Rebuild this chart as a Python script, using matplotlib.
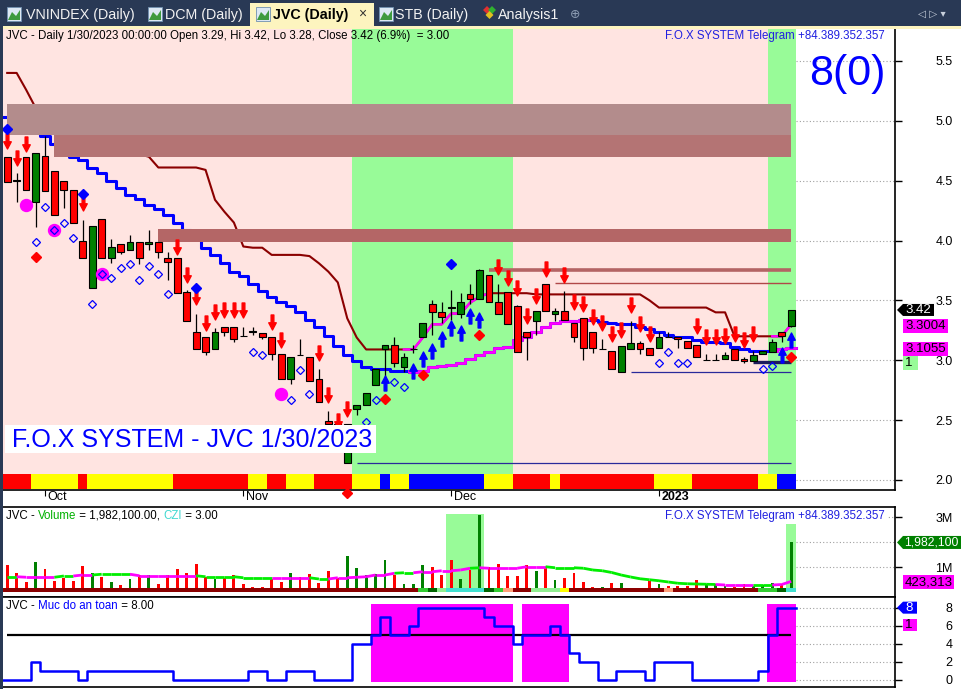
import numpy as np
import matplotlib
matplotlib.use("Agg")
import matplotlib.pyplot as plt
from matplotlib.patches import Rectangle, Polygon
from matplotlib.path import Path
from matplotlib.collections import LineCollection

plt.rcParams['font.family'] = ['Liberation Sans', 'DejaVu Sans']

W, H, DPI = 961, 689, 100

# ---------------- data ----------------
month_ticks = [4, 25, 47, 69]
month_labels = ['Oct', 'Nov', 'Dec', '2023']
price_ticks = [2.0, 2.5, 3.0, 3.5, 4.0, 4.5, 5.0, 5.5]
price_tick_labels = ['2.0', '2.5', '3.0', '3.5', '4.0', '4.5', '5.0', '5.5']
vol_ticks = [1.0, 3.0]
vol_tick_labels = ['1M', '3M']
safe_ticks = [0, 2, 4, 6, 8]
safe_tick_labels = ['0', '2', '4', '6', '8']

opens = [4.70, 4.50, 4.70, 4.32, 4.71, 4.58, 4.50, 4.42, 4.00, 3.60,
         4.18, 3.85, 3.97, 3.92, 3.99, 3.97, 3.99, 3.85, 3.85, 3.57,
         3.24, 3.19, 3.09, 3.28, 3.28, 3.20, 3.24, 3.23, 3.19, 3.05,
         2.84, 3.04, 3.03, 2.84, 2.49, 2.47, 2.14, 2.59, 2.63, 2.79,
         3.09, 3.13, 2.94, 3.09, 3.19, 3.47, 3.40, 3.44, 3.39, 3.55,
         3.51, 3.71, 3.49, 3.57, 3.45, 3.24, 3.33, 3.64, 3.39, 3.41,
         3.31, 3.35, 3.24, 3.09, 3.08, 2.90, 3.09, 3.14, 3.10, 3.10,
         3.19, 3.19, 3.16, 3.13, 3.00, 3.00, 3.01, 3.09, 3.01, 2.99,
         3.05, 3.07, 3.24, 3.29]
highs = [4.70, 4.56, 4.70, 4.73, 4.87, 4.58, 4.50, 4.42, 4.17, 4.12,
         4.18, 4.01, 3.97, 4.05, 3.99, 4.09, 3.99, 3.90, 3.85, 3.59,
         3.39, 3.19, 3.27, 3.28, 3.28, 3.28, 3.28, 3.23, 3.19, 3.05,
         3.03, 3.18, 3.03, 2.93, 2.58, 2.48, 2.47, 2.63, 2.73, 2.93,
         3.13, 3.19, 3.06, 3.13, 3.31, 3.50, 3.49, 3.59, 3.56, 3.64,
         3.76, 3.71, 3.64, 3.57, 3.46, 3.24, 3.41, 3.64, 3.44, 3.58,
         3.31, 3.35, 3.24, 3.18, 3.08, 3.12, 3.33, 3.16, 3.10, 3.24,
         3.24, 3.19, 3.16, 3.13, 3.05, 3.05, 3.07, 3.09, 3.03, 3.08,
         3.08, 3.18, 3.24, 3.42]
lows = [4.49, 4.32, 4.42, 4.11, 4.41, 4.21, 4.27, 4.15, 3.85, 3.60,
        3.85, 3.81, 3.89, 3.92, 3.80, 3.92, 3.85, 3.67, 3.56, 3.33,
        3.09, 3.04, 3.09, 3.20, 3.15, 3.20, 3.21, 3.18, 3.00, 2.84,
        2.80, 3.04, 2.83, 2.65, 2.47, 2.30, 2.14, 2.54, 2.63, 2.79,
        2.86, 2.94, 2.90, 3.06, 3.19, 3.21, 3.31, 3.34, 3.35, 3.47,
        3.51, 3.49, 3.39, 3.30, 3.07, 3.00, 3.21, 3.41, 3.33, 3.34,
        3.15, 3.00, 3.06, 3.09, 2.93, 2.90, 3.09, 3.05, 3.04, 3.10,
        3.19, 3.10, 3.10, 3.03, 3.00, 3.00, 3.01, 3.00, 2.98, 2.99,
        3.05, 3.07, 3.15, 3.28]
closes = [4.49, 4.50, 4.42, 4.73, 4.41, 4.21, 4.42, 4.15, 3.85, 4.12,
          3.85, 3.95, 3.90, 3.99, 3.85, 3.99, 3.90, 3.82, 3.56, 3.33,
          3.09, 3.07, 3.24, 3.24, 3.18, 3.20, 3.24, 3.19, 3.05, 2.84,
          3.03, 3.04, 2.83, 2.65, 2.47, 2.32, 2.47, 2.63, 2.73, 2.93,
          3.13, 2.98, 3.03, 3.09, 3.31, 3.40, 3.36, 3.44, 3.49, 3.51,
          3.75, 3.49, 3.39, 3.30, 3.07, 3.19, 3.41, 3.41, 3.41, 3.34,
          3.19, 3.10, 3.10, 3.09, 2.93, 3.12, 3.14, 3.09, 3.04, 3.19,
          3.19, 3.18, 3.10, 3.03, 3.00, 3.00, 3.04, 3.00, 2.99, 3.04,
          3.08, 3.15, 3.20, 3.42]

# trailing resistance (upper) and support (lower) lines
upper_line = [5.40, 5.40, 5.26, 5.11, 5.02, 4.97, 4.92, 4.88, 4.86, 4.83,
              4.81, 4.78, 4.76, 4.74, 4.72, 4.70, 4.61, 4.61, 4.61, 4.61,
              4.61, 4.59, 4.34, 4.24, 4.15, 3.95, 3.94, 3.94, 3.88, 3.88,
              3.88, 3.88, 3.87, 3.81, 3.74, 3.65, 3.35, 3.19, 3.09, 3.09,
              3.09, 3.09, 3.09, 3.09, 3.19, 3.30, 3.30, 3.39, 3.39, 3.48,
              3.53, 3.56, 3.56, 3.56, 3.56, 3.56, 3.55, 3.55, 3.55, 3.55,
              3.55, 3.55, 3.55, 3.55, 3.55, 3.55, 3.55, 3.55, 3.50, 3.44,
              3.44, 3.44, 3.44, 3.44, 3.44, 3.40, 3.40, 3.20, 3.20, 3.20,
              3.20, 3.20, 3.20, 3.3004]
lower_line = [5.03, 5.03, 5.01, 4.97, 4.87, 4.81, 4.76, 4.70, 4.67, 4.61,
              4.56, 4.50, 4.44, 4.38, 4.35, 4.30, 4.26, 4.21, 4.15, 4.09,
              4.03, 3.94, 3.88, 3.81, 3.74, 3.70, 3.64, 3.58, 3.53, 3.49,
              3.45, 3.40, 3.34, 3.28, 3.20, 3.12, 3.04, 2.99, 2.94, 2.93,
              2.93, 2.91, 2.91, 2.90, 2.91, 2.94, 2.95, 2.96, 2.98, 3.01,
              3.04, 3.07, 3.10, 3.11, 3.17, 3.19, 3.24, 3.28, 3.31, 3.33,
              3.33, 3.34, 3.34, 3.32, 3.31, 3.30, 3.30, 3.28, 3.26, 3.24,
              3.21, 3.19, 3.19, 3.17, 3.15, 3.15, 3.14, 3.11, 3.09, 3.08,
              3.08, 3.08, 3.09, 3.1055]
upper_bull = [(43, 51), (82, 83)]
lower_bull = [(43, 61), (82, 83)]

# background trend zones (first bar, last bar, colour)
bg_zones = [(0, 36, '#FFE4E1'), (37, 53, '#98FB98'), (54, 80, '#FFE4E1'), (81, 83, '#98FB98')]
# state strip at the bottom of the price pane
strip_zones = [(0, 2, 'r'), (3, 7, 'y'), (8, 8, 'r'), (9, 17, 'y'), (18, 25, 'r'), (26, 27, 'y'),
               (28, 29, 'r'), (30, 32, 'y'), (33, 36, 'r'), (37, 39, 'y'), (40, 40, 'b'),
               (41, 42, 'y'), (43, 50, 'b'), (51, 53, 'y'), (54, 57, 'r'), (58, 58, 'y'),
               (59, 68, 'r'), (69, 72, 'y'), (73, 79, 'r'), (80, 81, 'y'), (82, 83, 'b')]
# supply zones (first bar, last bar, low, high, colour)
supply_zones = [(0, 83, 4.879, 5.141, '#B38C8C'), (5, 83, 4.700, 4.879, '#B47474'),
                (16, 83, 3.990, 4.096, '#B46666')]
# horizontal levels (price, first bar, last bar, colour, width)
levels = [(3.754, 51, 83, '#B46464', 2.6), (3.645, 58, 83, '#B04848', 1.0),
          (2.142, 37, 83, '#2A2A9A', 0.9), (2.902, 66, 83, '#2A2A9A', 0.9),
          (2.985, 79, 83, '#1C1C5C', 2.4)]

sell_bars = [0, 1, 2, 8, 18, 19, 20, 21, 22, 23, 24, 25, 28, 29, 33, 34, 35, 36,
             52, 53, 54, 55, 56, 57, 59, 60, 61, 62, 63, 64, 65, 66, 67, 68,
             73, 74, 75, 76, 77, 78, 79]
sell_prices = [4.83, 4.69, 4.81, 4.31, 3.95, 3.71, 3.53, 3.31, 3.40, 3.42, 3.42, 3.42,
               3.32, 3.17, 3.06, 2.71, 2.49, 2.59,
               3.78, 3.69, 3.60, 3.37, 3.54, 3.76, 3.71, 3.49, 3.47, 3.36, 3.31, 3.22,
               3.25, 3.46, 3.30, 3.22,
               3.29, 3.19, 3.19, 3.20, 3.22, 3.17, 3.22]
buy_bars = [40, 43, 44, 45, 46, 47, 48, 49, 50, 82, 83]
buy_prices = [2.81, 2.91, 3.01, 3.08, 3.18, 3.27, 3.23, 3.37, 3.34, 3.04, 3.17]
hollow_bars = [3, 4, 5, 6, 7, 9, 10, 11, 12, 13, 14, 15, 16, 17, 26, 27, 30, 31, 32,
               38, 39, 41, 42, 69, 70, 71, 72, 80, 81]
hollow_prices = [3.99, 4.28, 4.09, 4.15, 4.02, 3.47, 3.72, 3.69, 3.77, 3.80, 3.67, 3.79,
                 3.72, 3.55, 3.07, 3.04, 2.67, 2.92, 2.72,
                 2.48, 2.67, 2.82, 2.78, 2.98, 3.07, 2.98, 2.98, 2.93, 2.95]
bluedot_bars = [0, 8, 20, 47]
bluedot_prices = [4.93, 4.39, 3.60, 3.80]
reddot_bars = [3, 40, 44, 50, 83]
reddot_prices = [3.86, 2.68, 2.88, 3.21, 3.03]
axis_signal_bar = 36
circle_bars = [2, 5, 10, 29]
circle_prices = [4.30, 4.09, 3.72, 2.72]

# volume (millions)
volumes = [1.08, 0.77, 0.41, 1.21, 0.92, 0.45, 0.57, 0.45, 1.05, 0.75,
           0.59, 0.40, 0.28, 0.52, 0.68, 0.68, 0.32, 0.68, 0.92, 0.77,
           1.12, 0.59, 0.52, 0.57, 0.68, 0.32, 0.19, 0.19, 0.52, 0.41,
           0.77, 0.59, 0.72, 0.37, 0.84, 0.55, 1.44, 0.95, 0.68, 0.72,
           1.28, 0.68, 0.32, 0.32, 1.08, 1.01, 0.68, 1.28, 0.52, 0.88,
           3.08, 1.01, 1.12, 0.64, 0.64, 1.08, 0.84, 0.97, 0.48, 0.55,
           0.75, 0.40, 0.19, 0.19, 0.35, 0.35, 0.15, 0.11, 0.45, 0.32,
           0.24, 0.24, 0.24, 0.48, 0.31, 0.32, 0.24, 0.21, 0.32, 0.24,
           0.28, 0.35, 0.32, 1.9821]
vol_up = [0, 0, 0, 1, 0, 0, 0, 0, 0, 1, 0, 1, 0, 1, 0, 1, 0, 0, 0, 0,
          0, 0, 1, 0, 0, 0, 0, 0, 0, 0, 1, 0, 0, 0, 0, 0, 1, 1, 1, 1,
          1, 0, 1, 1, 1, 0, 0, 0, 1, 0, 1, 0, 0, 0, 0, 0, 1, 0, 1, 0,
          0, 0, 0, 1, 0, 1, 1, 0, 0, 1, 0, 0, 0, 0, 1, 1, 1, 0, 0, 1,
          1, 1, 0, 1]
vol_ma = [0.61, 0.61, 0.59, 0.59, 0.59, 0.59, 0.64, 0.64, 0.68, 0.68,
          0.71, 0.71, 0.71, 0.71, 0.65, 0.65, 0.65, 0.65, 0.65, 0.65,
          0.65, 0.61, 0.61, 0.61, 0.61, 0.57, 0.57, 0.57, 0.57, 0.57,
          0.57, 0.57, 0.57, 0.52, 0.52, 0.57, 0.57, 0.59, 0.61, 0.68,
          0.68, 0.75, 0.77, 0.77, 0.81, 0.81, 0.85, 0.85, 0.88, 0.95,
          0.97, 0.95, 0.95, 0.95, 0.95, 1.01, 1.01, 1.01, 0.97, 0.97,
          0.97, 0.95, 0.88, 0.85, 0.78, 0.68, 0.60, 0.53, 0.49, 0.45,
          0.40, 0.35, 0.33, 0.32, 0.31, 0.30, 0.28, 0.28, 0.28, 0.28,
          0.28, 0.28, 0.30, 0.423313]
vol_ma_bull = [(2, 5), (8, 9), (14, 20), (29, 32), (35, 41), (44, 49), (51, 57), (76, 79), (82, 83)]
czi_zones = [(0, 43, '#8B0000'), (44, 44, '#32CD32'), (45, 45, '#006400'), (46, 46, '#90EE90'),
             (47, 50, '#40E0D0'), (51, 51, '#006400'), (52, 52, '#32CD32'), (53, 53, '#FFA07A'),
             (54, 55, '#8B0000'), (56, 58, '#90EE90'), (59, 59, '#FFFF00'), (60, 69, '#8B0000'),
             (70, 70, '#FFA07A'), (71, 79, '#8B0000'), (80, 81, '#32CD32'), (82, 82, '#006400'),
             (83, 83, '#40E0D0')]
vol_spike_zones = [(47, 50, 3.12), (83, 83, 2.72)]

# safety level ("Muc do an toan")
safety = [0, 0, 0, 2, 1, 1, 1, 1, 0, 1, 1, 1, 1, 1, 1, 1, 1, 1, 0, 0,
          0, 0, 0, 0, 0, 0, 1, 1, 0, 0, 1, 1, 1, 0, 0, 0, 0, 4, 4, 5,
          7, 5, 5, 6, 8, 8, 8, 8, 8, 8, 8, 7, 6, 6, 4, 5, 5, 5, 6, 5,
          3, 2, 2, 0, 0, 1, 1, 1, 0, 2, 2, 2, 2, 0, 0, 0, 0, 0, 0, 0,
          1, 5, 8, 8]
safety_threshold = 5

# ---------------- figure ----------------
fig = plt.figure(figsize=(W / DPI, H / DPI), dpi=DPI)
fig.patch.set_facecolor('white')


def fx(x):
    return x / W


def fy(y):
    return 1 - y / H


def add_ax(top, bottom, left=3, right=895):
    return fig.add_axes([fx(left), fy(bottom), (right - left) / W, (bottom - top) / H])


ax = add_ax(29, 490)
axv = add_ax(507, 597)
axs = add_ax(597, 687)
XL = (-0.445, 93.99)
for a in (ax, axv, axs):
    a.set_xlim(*XL)
    a.grid(False)
    a.spines['left'].set_visible(False)
    for s in ('right', 'top', 'bottom'):
        a.spines[s].set_linewidth(1.2)
    a.yaxis.tick_right()
    a.tick_params(axis='y', direction='out', length=5, width=1, labelsize=9, pad=36.5)
ax.spines['top'].set_visible(False)

idx = np.arange(len(closes))
o = np.array(opens); hi = np.array(highs); lo = np.array(lows); c = np.array(closes)

# ---- price pane ----
ax.set_ylim(1.916, 5.767)
ax.set_yticks(price_ticks)
ax.set_yticklabels(price_tick_labels)
ax.set_xticks(month_ticks)
ax.tick_params(axis='x', direction='out', length=4, labelbottom=False)
for i, lab in enumerate(month_labels):
    ax.text(month_ticks[i] + 0.3, -0.016, lab, transform=ax.get_xaxis_transform(), ha='left',
            va='center', fontsize=9, fontweight='bold' if lab == '2023' else 'normal')

STRIP_TOP = (490 - 474) / 461
for s, e, col in bg_zones:
    ax.axvspan(s - 0.5, e + 0.5, ymin=STRIP_TOP, ymax=1, color=col, lw=0, zorder=0.5)
scol = {'r': '#FF0000', 'y': '#FFFF00', 'b': '#0000FF'}
for s, e, k in strip_zones:
    ax.axvspan(s - 0.5, e + 0.5, ymin=0.002, ymax=STRIP_TOP, color=scol[k], lw=0, zorder=1)

ax.hlines(price_ticks, 83.5, XL[1], colors='#A0A0A0', linestyles=(0, (1, 2)), lw=0.8, zorder=0.6)


def step_xy(vals, a, b):
    xs, ys = [], []
    if a > 0:
        xs.append(a - 0.5); ys.append(vals[a - 1])
    for i in range(a, b + 1):
        xs += [i - 0.5, i + 0.5]; ys += [vals[i], vals[i]]
    return xs, ys


ax.plot(idx, upper_line, color='#8B0000', lw=1.5, zorder=2)
for s, e in upper_bull:
    ax.plot(idx[s - 1:e + 1], upper_line[s - 1:e + 1], color='#FF00FF', lw=1.8, zorder=2.1)
xs, ys = step_xy(lower_line, 0, len(lower_line) - 1)
ax.plot(xs, ys, color='#0000FF', lw=2.2, zorder=2)
for s, e in lower_bull:
    xs, ys = step_xy(lower_line, s, e)
    ax.plot(xs, ys, color='#FF00FF', lw=2.0, zorder=2.1)

for s, e, p0, p1, col in supply_zones:
    ax.add_patch(Rectangle((s, p0), e - s, p1 - p0, facecolor=col, edgecolor='none', zorder=3))
for p, s, e, col, lw in levels:
    ax.hlines(p, s, e, colors=col, lw=lw, zorder=3.2)

# candles
ax.vlines(idx, lo, hi, colors='black', lw=0.9, zorder=4)
body_lo = np.minimum(o, c)
body_h = np.maximum(np.abs(c - o), 0.004)
body_col = np.where(c > o, '#008000', np.where(c < o, '#FF0000', '#000000'))
ax.bar(idx, body_h, bottom=body_lo, width=0.72, color=body_col, edgecolor='black', lw=0.8, zorder=4.1)

# signal markers
av = [(-0.09, 0.5), (0.09, 0.5), (0.09, -0.02), (0.25, -0.02), (0, -0.5), (-0.25, -0.02), (-0.09, -0.02), (-0.09, 0.5)]
codes = [Path.MOVETO] + [Path.LINETO] * 6 + [Path.CLOSEPOLY]
down_arrow = Path(av, codes)
up_arrow = Path([(x, -y) for x, y in av], codes)
ax.plot(sell_bars, sell_prices, ls='none', marker=down_arrow, ms=10.8, color='#FF0000', mec='#FF0000', zorder=5)
ax.plot(buy_bars, buy_prices, ls='none', marker=up_arrow, ms=10.8, color='#0000FF', mec='#0000FF', zorder=5)
ax.plot(circle_bars, circle_prices, ls='none', marker='o', ms=8.6, color='#FF00FF', mec='#FF00FF', zorder=5)
ax.plot(hollow_bars, hollow_prices, ls='none', marker='D', ms=4.4, mfc='none', mec='#0000FF', mew=0.9, zorder=5.1)
ax.plot(bluedot_bars, bluedot_prices, ls='none', marker='D', ms=4.6, color='#0000FF', zorder=5.1)
ax.plot(reddot_bars, reddot_prices, ls='none', marker='D', ms=4.6, color='#FF0000', zorder=5.1)
ax.plot([axis_signal_bar], [1.89], ls='none', marker='D', ms=4.6, color='#FF0000', zorder=6, clip_on=False)

# ---- volume pane ----
axv.set_ylim(-0.2, 3.4)
axv.set_yticks(vol_ticks)
axv.set_yticklabels(vol_tick_labels)
axv.set_xticks([])
for s, e, top in vol_spike_zones:
    axv.add_patch(Rectangle((s - 0.5, 0), e - s + 1, top, facecolor='#98FB98', edgecolor='none', zorder=0.5))
vcol = ['#008000' if u else '#FF0000' for u in vol_up]
axv.bar(idx, volumes, width=0.3, color=vcol, lw=0, zorder=2)
for s, e, col in czi_zones:
    axv.add_patch(Rectangle((s - 0.5, 0), e - s + 1, 0.16, facecolor=col, edgecolor='none', zorder=3))
bull_mask = np.zeros(len(vol_ma), bool)
for s, e in vol_ma_bull:
    bull_mask[s:e + 1] = True
pts = np.column_stack([idx, vol_ma])
segs = [pts[i:i + 2] for i in range(len(pts) - 1)]
segc = ['#FF00FF' if bull_mask[i + 1] else '#00EE00' for i in range(len(pts) - 1)]
axv.add_collection(LineCollection(segs, colors=segc, linewidths=2.0, zorder=4))
axv.hlines([1.0, volumes[-1]], 83.5, XL[1], colors='#A0A0A0', linestyles=(0, (1, 2)), lw=0.8, zorder=0.6)
axv.hlines([3.0], 92.9, XL[1], colors='#A0A0A0', linestyles=(0, (1, 2)), lw=0.8, zorder=0.6)

# ---- safety pane ----
axs.set_ylim(-0.775, 9.18)
axs.set_yticks(safe_ticks)
axs.set_yticklabels(safe_tick_labels)
axs.set_xticks([])
sv = np.array(safety)
mask = sv >= safety_threshold
axs.bar(idx[mask], 8.62, bottom=-0.22, width=1.02, color='#FF00FF', lw=0, zorder=1)
axs.hlines(safety_threshold, 0, 83, colors='black', lw=1.6, zorder=2)
xs, ys = step_xy(safety, 0, len(safety) - 1)
axs.plot(xs, ys, color='#0000FF', lw=1.8, zorder=3)
axs.hlines(safe_ticks, 83.5, XL[1], colors='#A0A0A0', linestyles=(0, (1, 2)), lw=0.8, zorder=0.6)

for a in (ax, axv, axs):
    for lab in a.get_yticklabels():
        lab.set_horizontalalignment('right')

# ---------------- texts and tags ----------------
renderer = fig.canvas.get_renderer()


def parts_text(x, y, parts, fs):
    cx = x
    for s, col in parts:
        t = fig.text(fx(cx), fy(y), s, color=col, fontsize=fs, va='center', ha='left')
        cx += t.get_window_extent(renderer=renderer).width


def ypx(a, v):
    return H - a.transData.transform((0, v))[1]


def tag(y, text, fc, tc, x0, x1, arrow=False, h=13, fs=9.5, tx=2):
    if arrow:
        pts_ = [(x0 - 6, y), (x0, y - h / 2), (x1, y - h / 2), (x1, y + h / 2), (x0, y + h / 2)]
    else:
        pts_ = [(x0, y - h / 2), (x1, y - h / 2), (x1, y + h / 2), (x0, y + h / 2)]
    fig.add_artist(Polygon([(fx(px), fy(py)) for px, py in pts_], closed=True,
                           transform=fig.transFigure, fc=fc, ec='none', zorder=5))
    fig.text(fx(x0 + tx), fy(y + 0.5), text, color=tc, fontsize=fs, ha='left', va='center', zorder=6)


parts_text(6, 36, [("JVC - Daily 1/30/2023 00:00:00 Open 3.29, Hi 3.42, Lo 3.28, Close 3.42 (6.9%)  = 3.00", 'black')], 8.3)
fig.text(fx(885), fy(36), "F.O.X SYSTEM Telegram +84.389.352.357", color='#2020E0', fontsize=8.3, ha='right', va='center')
fig.text(fx(847), fy(74), "8(0)", color='#0000FF', fontsize=31, ha='center', va='center')
fig.add_artist(Rectangle((fx(5), fy(453)), 371 / W, 28 / H, transform=fig.transFigure, fc='white', ec='none', zorder=4))
fig.text(fx(12), fy(440), "F.O.X SYSTEM - JVC 1/30/2023", color='#0000FF', fontsize=18, ha='left', va='center', zorder=5)

parts_text(6, 516, [("JVC - ", 'black'), ("Volume", '#00B000'), (" = 1,982,100.00, ", 'black'),
                    ("CZI", '#40D8D0'), (" = 3.00", 'black')], 8.3)
fig.add_artist(Rectangle((fx(650), fy(523)), 237 / W, 13 / H, transform=fig.transFigure, fc='white', ec='none', zorder=2))
fig.text(fx(885), fy(516), "F.O.X SYSTEM Telegram +84.389.352.357", color='#2020E0', fontsize=8.3, ha='right', va='center', zorder=3)
parts_text(6, 606, [("JVC - ", 'black'), ("Muc do an toan", '#0000FF'), (" = 8.00", 'black')], 8.3)

tag(ypx(ax, closes[-1]), "3.42", 'black', 'white', 903, 934, arrow=True, h=12)
tag(ypx(ax, upper_line[-1]) + 1.5, "3.3004", '#FF00FF', 'black', 903, 948, h=14)
tag(ypx(ax, lower_line[-1]) + 1, "3.1055", '#FF00FF', 'black', 903, 948, h=14)
tag(ypx(ax, lower_line[-1]) + 15, "1", '#98FB98', 'black', 903, 918, h=14)
tag(ypx(axv, volumes[-1]), "1,982,100", '#008000', 'white', 903, 961, arrow=True, h=13, fs=8.7, tx=1)
tag(ypx(axv, vol_ma[-1]) + 1, "423,313", '#FF00FF', 'black', 903, 954, h=14)
tag(ypx(axs, safety[-1]), "8", '#0000FF', 'white', 903, 917, arrow=True, h=12)
tag(ypx(axs, safety[-1]) + 17, "1", '#FF00FF', 'black', 903, 917, h=12)

# ---------------- tab bar / window chrome ----------------
NAVY = '#293955'
fig.add_artist(Rectangle((0, fy(26)), 1, 26 / H, transform=fig.transFigure, fc=NAVY, ec='none', zorder=7))
fig.add_artist(Rectangle((0, fy(29)), 1, 3 / H, transform=fig.transFigure, fc='#FDF4BF', ec='none', zorder=7))
fig.add_artist(Rectangle((fx(250), fy(29)), 124 / W, 26 / H, transform=fig.transFigure, fc='#FDF4BF', ec='none', zorder=7))
fig.add_artist(Rectangle((0, 0), 3 / W, 1, transform=fig.transFigure, fc=NAVY, ec='none', zorder=7))
tabs = [("VNINDEX (Daily)", 7, 26, False), ("DCM (Daily)", 148, 165, False), ("JVC (Daily)", 256, 273, True),
        ("STB (Daily)", 379, 395, False)]
for name, ix, tx, active in tabs:
    fig.add_artist(Rectangle((fx(ix), fy(21)), 14 / W, 14 / H, transform=fig.transFigure, fc='#DDE8F4', ec='#7090B0', lw=0.6, zorder=8))
    fig.add_artist(Polygon([(fx(ix + 1), fy(20)), (fx(ix + 5), fy(12)), (fx(ix + 9), fy(16)), (fx(ix + 13), fy(10)), (fx(ix + 13), fy(20))],
                           closed=True, transform=fig.transFigure, fc='#3E9A3E', ec='none', zorder=8.5))
    fig.text(fx(tx), fy(14.5), name, color='black' if active else '#F2F2F2', fontsize=10.3,
             fontweight='bold' if active else 'normal', ha='left', va='center', zorder=9)
fig.text(fx(358), fy(14), "×", color='#333333', fontsize=10, ha='left', va='center', zorder=9)
for (dx, dy, col) in [(0, 0, '#E03030'), (5, 0, '#30B030'), (2.5, 5, '#E0C020')]:
    fig.add_artist(Polygon([(fx(483 + dx), fy(10 + dy)), (fx(487 + dx), fy(6 + dy)), (fx(491 + dx), fy(10 + dy)), (fx(487 + dx), fy(14 + dy))],
                           closed=True, transform=fig.transFigure, fc=col, ec='none', zorder=8))
fig.text(fx(498), fy(14.5), "Analysis1", color='#F2F2F2', fontsize=10.3, ha='left', va='center', zorder=9)
fig.text(fx(570), fy(14), "⊕", color='#8A9AB0', fontsize=9, ha='left', va='center', zorder=9, family='DejaVu Sans')
fig.text(fx(918), fy(14), "◁ ▷ ▾", color='#C8D0DC', fontsize=7.5, ha='left', va='center', zorder=9, family='DejaVu Sans')

fig.savefig("out.png", dpi=DPI, facecolor='white')
